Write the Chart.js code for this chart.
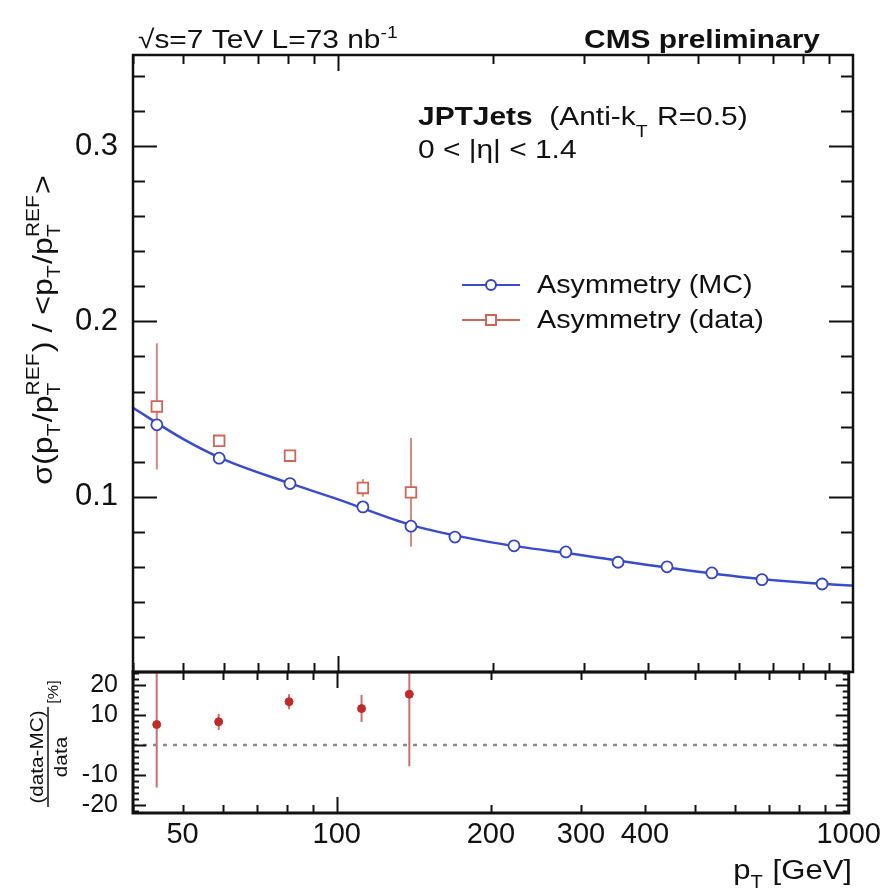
<!DOCTYPE html>
<html><head><meta charset="utf-8">
<script src="https://cdn.jsdelivr.net/npm/chart.js@4.4.1/dist/chart.umd.min.js"></script>
<style>
html,body{margin:0;padding:0;background:#fff;}
#wrap{position:relative;width:886px;height:890px;background:#fff;}
canvas{position:absolute;left:0;top:0;}
</style></head><body>
<div id="wrap"><canvas id="c1" width="886" height="890"></canvas><canvas id="c2" width="886" height="890"></canvas></div>
<script>
// ---------- data ----------
const ptMC = [44.5, 58.8, 80.7, 111.8, 138.6, 168.7, 219.7, 277, 349.8, 435.4, 532, 665.6, 871];
const asymMC = [0.141, 0.122, 0.1075, 0.0942, 0.0832, 0.077, 0.072, 0.0685, 0.0626, 0.060, 0.0565, 0.0527, 0.0502];
const ptData = [44.5, 58.8, 80.7, 111.8, 138.6];
const asymData = [0.1515, 0.1319, 0.1234, 0.105, 0.1025];
const asymDataErr = [0.036, 0.003, 0.002, 0.005, 0.031];
const fitPt = [40, 50, 60, 80, 100, 140, 200, 300, 400, 600, 800, 1000];
const fitVal = [0.1507, 0.133, 0.1213, 0.108, 0.0985, 0.0835, 0.0738, 0.0665, 0.061, 0.0544, 0.051, 0.0493];
const ratioVal = [6.8, 7.7, 14.4, 12.1, 16.9];
const ratioErr = [21, 2.7, 2.5, 4.5, 24];
const xTickLabels = [50, 100, 200, 300, 400, 1000];
const yMainTicks = [0.1, 0.2, 0.3];
const yRatioTicks = [20, 10, -10, -20];

// ---------- helpers ----------
const FAM = '"Liberation Sans", Arial, Helvetica, sans-serif';
Chart.defaults.font.family = FAM;
const SX = 1.15;
function fnt(size, bold) { return (bold ? 'bold ' : '') + size + 'px ' + FAM; }
function segWidth(ctx, s, size) {
  if (s.sub !== undefined || s.sup !== undefined) {
    ctx.font = fnt(size * 0.65, false);
    let w = 0;
    if (s.sub) w = Math.max(w, ctx.measureText(s.sub).width);
    if (s.sup) w = Math.max(w, ctx.measureText(s.sup).width);
    return w + size * 0.04;
  }
  ctx.font = fnt(size * (s.s || 1), s.b);
  return ctx.measureText(s.t).width;
}
function drawRich(ctx, segs, x, y, size, align, rot) {
  ctx.save();
  ctx.translate(x, y);
  if (rot) ctx.rotate(rot);
  ctx.scale(SX, 1);
  const total = segs.reduce((a, s) => a + segWidth(ctx, s, size), 0);
  let cx = align === 'right' ? -total : align === 'center' ? -total / 2 : 0;
  ctx.textBaseline = 'alphabetic';
  ctx.textAlign = 'left';
  ctx.fillStyle = '#111';
  for (const s of segs) {
    const w = segWidth(ctx, s, size);
    if (s.sub !== undefined || s.sup !== undefined) {
      ctx.font = fnt(size * 0.65, false);
      if (s.sub) ctx.fillText(s.sub, cx, size * (s.subDy || 0.3));
      if (s.sup) ctx.fillText(s.sup, cx, -size * (s.supDy || 0.45));
    } else {
      ctx.font = fnt(size * (s.s || 1), s.b);
      ctx.fillText(s.t, cx, size * (s.dy || 0));
    }
    cx += w;
  }
  ctx.restore();
  return total * SX;
}
function line(ctx, x0, y0, x1, y1) { ctx.beginPath(); ctx.moveTo(x0, y0); ctx.lineTo(x1, y1); ctx.stroke(); }
function logMinorList() {
  const a = [];
  for (let v = 40; v <= 90; v += 10) a.push(v);
  for (let v = 200; v <= 900; v += 100) a.push(v);
  return a;
}

// ---------- main panel ----------
const mainPlugin = {
  id: 'mainDeco',
  beforeDatasetsDraw(chart) {
    const { ctx, chartArea: a, scales: { x, y } } = chart;
    ctx.save();
    ctx.beginPath(); ctx.rect(a.left, a.top, a.right - a.left, a.bottom - a.top); ctx.clip();
    ctx.strokeStyle = '#d48a7e'; ctx.lineWidth = 2;
    ptData.forEach((p, i) => {
      const px = x.getPixelForValue(p);
      line(ctx, px, y.getPixelForValue(asymData[i] - asymDataErr[i]), px, y.getPixelForValue(asymData[i] + asymDataErr[i]));
    });
    ctx.restore();
  },
  afterDraw(chart) {
    const { ctx, chartArea: a, scales: { x, y } } = chart;
    ctx.save();
    ctx.strokeStyle = '#111';
    ctx.lineWidth = 2;
    for (let i = 1; i <= 17; i++) {
      const v = i * 0.02;
      const py = Math.round(y.getPixelForValue(v)) + 0.5;
      const major = (i % 5 === 0);
      const L = major ? 24 : 12;
      line(ctx, a.left, py, a.left + L, py);
      line(ctx, a.right - L, py, a.right, py);
    }
    logMinorList().forEach(v => {
      const px = Math.round(x.getPixelForValue(v)) + 0.5;
      line(ctx, px, a.top, px, a.top + 9);
      line(ctx, px, a.bottom, px, a.bottom - 9);
    });
    [100].forEach(v => {
      const px = Math.round(x.getPixelForValue(v)) + 0.5;
      line(ctx, px, a.top, px, a.top + 16);
      line(ctx, px, a.bottom, px, a.bottom - 16);
    });
    ctx.lineWidth = 2.5;
    ctx.strokeRect(a.left, a.top, a.right - a.left, a.bottom - a.top);
    ctx.restore();
  }
};

new Chart(document.getElementById('c1'), {
  type: 'scatter',
  data: {
    datasets: [
      {
        label: 'Asymmetry (data)',
        data: ptData.map((p, i) => ({ x: p, y: asymData[i] })),
        showLine: false, pointStyle: 'rect', pointRadius: 7.5,
        borderColor: '#cc6655', backgroundColor: '#ffffff', pointBorderWidth: 1.8
      },
      {
        label: 'Asymmetry (MC)',
        data: ptMC.map((p, i) => ({ x: p, y: asymMC[i] })),
        showLine: false, pointStyle: 'circle', pointRadius: 5.5,
        borderColor: '#3444c4', backgroundColor: '#ffffff', pointBorderWidth: 1.8
      },
      {
        label: 'fit',
        data: fitPt.map((p, i) => ({ x: p, y: fitVal[i] })),
        showLine: true, pointRadius: 0, borderColor: '#3a4ccc', borderWidth: 2.5,
        cubicInterpolationMode: 'monotone', fill: false
      }
    ]
  },
  options: {
    responsive: false, animation: false, devicePixelRatio: 1,
    layout: { padding: { top: 55, bottom: 218, left: 0, right: 33 } },
    plugins: { legend: { display: false }, tooltip: { enabled: false } },
    scales: {
      x: { type: 'logarithmic', min: 40, max: 1000, display: false },
      y: {
        type: 'linear', min: 0, max: 0.352, position: 'left',
        grid: { display: false, drawTicks: false }, border: { display: false },
        ticks: { font: { size: 31 }, color: '#111', padding: 15, callback: v => String(v) },
        afterFit(s) { s.width = 133; },
        afterBuildTicks(s) { s.ticks = yMainTicks.map(v => ({ value: v })); }
      }
    }
  },
  plugins: [mainPlugin]
});

// ---------- ratio panel + texts ----------
const ratioPlugin = {
  id: 'ratioDeco',
  beforeDatasetsDraw(chart) {
    const { ctx, chartArea: a, scales: { x, y } } = chart;
    ctx.save();
    ctx.beginPath(); ctx.rect(a.left, a.top, a.right - a.left, a.bottom - a.top); ctx.clip();
    ctx.strokeStyle = '#8a8a8a'; ctx.lineWidth = 2.5; ctx.setLineDash([4, 6]);
    const y0 = y.getPixelForValue(0);
    line(ctx, a.left, y0, a.right, y0);
    ctx.setLineDash([]);
    ctx.strokeStyle = '#cc6e6e'; ctx.lineWidth = 2;
    ptData.forEach((p, i) => {
      const px = x.getPixelForValue(p);
      line(ctx, px, y.getPixelForValue(ratioVal[i] - ratioErr[i]), px, y.getPixelForValue(ratioVal[i] + ratioErr[i]));
    });
    ctx.restore();
  },
  afterDraw(chart) {
    const { ctx, chartArea: a, scales: { x, y } } = chart;
    ctx.save();
    ctx.strokeStyle = '#111'; ctx.lineWidth = 2;
    for (let v = -22; v <= 24; v += 2) {
      const py = Math.round(y.getPixelForValue(v)) + 0.5;
      const L = (v % 10 === 0) ? 13 : 6;
      line(ctx, a.left, py, a.left + L, py);
      line(ctx, a.right - L, py, a.right, py);
    }
    logMinorList().forEach(v => {
      const px = Math.round(x.getPixelForValue(v)) + 0.5;
      line(ctx, px, a.top, px, a.top + 8);
      line(ctx, px, a.bottom, px, a.bottom - 8);
    });
    [100].forEach(v => {
      const px = Math.round(x.getPixelForValue(v)) + 0.5;
      line(ctx, px, a.top, px, a.top + 16);
      line(ctx, px, a.bottom, px, a.bottom - 16);
    });
    ctx.lineWidth = 3;
    ctx.strokeRect(a.left, a.top, a.right - a.left, a.bottom - a.top);

    // ---- texts ----
    drawRich(ctx, [{ t: '\u221As=7 TeV L=73 nb' }, { sup: '-1', supDy: 0.4 }], 138, 48, 26, 'left');
    drawRich(ctx, [{ t: 'CMS preliminary', b: true }], 820, 48, 26, 'right');
    drawRich(ctx, [{ t: 'JPTJets', b: true }, { t: '  (Anti-k' }, { sub: 'T', subDy: 0.45 }, { t: ' R=0.5)' }], 418, 125, 26, 'left');
    drawRich(ctx, [{ t: '0 < |\u03B7| < 1.4' }], 418, 158, 26, 'left');

    // legend
    ctx.lineWidth = 2;
    ctx.strokeStyle = '#3a4ccc';
    line(ctx, 462, 285, 520, 285);
    ctx.fillStyle = '#fff'; ctx.strokeStyle = '#3444c4';
    ctx.beginPath(); ctx.arc(491, 285, 5, 0, Math.PI * 2); ctx.fill(); ctx.stroke();
    ctx.strokeStyle = '#cc6655';
    line(ctx, 462, 320, 520, 320);
    ctx.fillRect(486, 315, 10, 10); ctx.strokeRect(486, 315, 10, 10);
    drawRich(ctx, [{ t: 'Asymmetry (MC)' }], 537, 293, 25, 'left');
    drawRich(ctx, [{ t: 'Asymmetry (data)' }], 537, 328, 25, 'left');

    // y title main
    const yt = [
      { t: '\u03C3(p' }, { sub: 'T', subDy: 0.3 }, { t: '/p' }, { sub: 'T', sup: 'REF', subDy: 0.3 },
      { t: ') / <p' }, { sub: 'T', subDy: 0.3 }, { t: '/p' }, { sub: 'T', sup: 'REF', subDy: 0.3 }, { t: '>' }
    ];
    drawRich(ctx, yt, 52, 330, 28, 'center', -Math.PI / 2);

    // y title ratio (fraction)
    drawRich(ctx, [{ t: '(data-MC)' }], 43, 757, 18, 'center', -Math.PI / 2);
    drawRich(ctx, [{ t: 'data' }], 67, 757, 18, 'center', -Math.PI / 2);
    ctx.strokeStyle = '#111'; ctx.lineWidth = 1.5;
    line(ctx, 48, 807, 48, 707);
    drawRich(ctx, [{ t: '[%]' }], 58, 692, 14, 'center', -Math.PI / 2);

    // x title
    drawRich(ctx, [{ t: 'p' }, { sub: 'T', subDy: 0.35 }, { t: ' [GeV]' }], 852, 879, 27, 'right');
    ctx.restore();
  }
};

new Chart(document.getElementById('c2'), {
  type: 'scatter',
  data: {
    datasets: [{
      label: 'ratio',
      data: ptData.map((p, i) => ({ x: p, y: ratioVal[i] })),
      showLine: false, pointStyle: 'circle', pointRadius: 4,
      borderColor: '#c02a2a', backgroundColor: '#c02a2a', pointBorderWidth: 1
    }]
  },
  options: {
    responsive: false, animation: false, devicePixelRatio: 1,
    layout: { padding: { top: 672, bottom: 0, left: 0, right: 33 } },
    plugins: { legend: { display: false }, tooltip: { enabled: false } },
    scales: {
      x: {
        type: 'logarithmic', min: 40, max: 1000, position: 'bottom',
        grid: { display: false, drawTicks: false }, border: { display: false },
        ticks: { font: { size: 29 }, color: '#111', padding: 5, maxRotation: 0, autoSkip: false, callback: v => String(v) },
        afterFit(s) { s.height = 77; },
        afterBuildTicks(s) { s.ticks = xTickLabels.map(v => ({ value: v })); }
      },
      y: {
        type: 'linear', min: -22.7, max: 24.3, position: 'left',
        grid: { display: false, drawTicks: false }, border: { display: false },
        ticks: { font: { size: 25 }, color: '#111', padding: 15, callback: v => String(v) },
        afterFit(s) { s.width = 133; },
        afterBuildTicks(s) { s.ticks = yRatioTicks.map(v => ({ value: v })); }
      }
    }
  },
  plugins: [ratioPlugin]
});
</script>
</body></html>
